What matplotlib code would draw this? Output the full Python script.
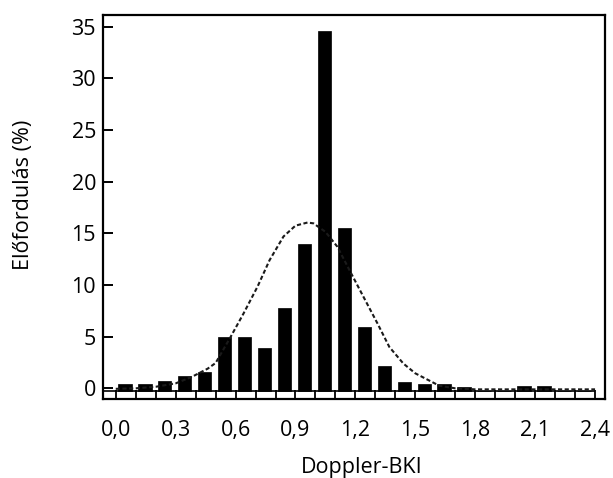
import matplotlib.pyplot as plt
import numpy as np

plt.rcParams['font.family'] = ['Open Sans', 'DejaVu Sans']

# histogram: 24 bins of width 0.1 from 0.0 to 2.4
bin_left = [round(i * 0.1, 1) for i in range(24)]
freq = [0.4, 0.4, 0.7, 1.2, 1.55, 4.95, 4.95, 3.9, 7.8, 13.95, 34.6, 15.5,
        5.9, 2.2, 0.6, 0.45, 0.4, 0.1, 0, 0, 0.25, 0.25, 0, 0]

# fitted curve (dashed)
curve_x = [0.0, 0.1, 0.2, 0.3, 0.38, 0.46, 0.5, 0.57, 0.64, 0.71, 0.77, 0.84,
           0.9, 0.96, 0.99, 1.05, 1.11, 1.17, 1.24, 1.31, 1.37, 1.44, 1.5,
           1.56, 1.62, 1.7, 1.8, 2.4]
curve_y = [-0.05, 0.0, 0.15, 0.48, 1.1, 1.9, 2.45, 4.8, 7.25, 9.85, 12.4, 14.7,
           15.75, 16.05, 15.97, 15.15, 13.7, 11.45, 8.87, 6.3, 4.0, 2.4, 1.45,
           0.85, 0.25, 0.0, -0.1, -0.1]

xticks = [0.0, 0.3, 0.6, 0.9, 1.2, 1.5, 1.8, 2.1, 2.4]
xtick_labels = ['0,0', '0,3', '0,6', '0,9', '1,2', '1,5', '1,8', '2,1', '2,4']
yticks = [0, 5, 10, 15, 20, 25, 30, 35]

fig = plt.figure(figsize=(6.13, 4.78), dpi=100)
ax = fig.add_axes([0.168, 0.1646, 0.819, 0.804])

base = -0.26
heights = [f - base if f > 0 else 0 for f in freq]
ax.bar([b + 0.045 for b in bin_left], heights, bottom=base, width=0.068,
       color='black', edgecolor='black', linewidth=0.5)
ax.hlines(base, -0.064, 2.4, color='black', lw=1.2)
ax.plot(curve_x, curve_y, color='#1a1a1a', lw=1.5, ls=(0, (2.0, 1.2)))

ax.set_xlim(-0.064, 2.45)
ax.set_ylim(-1.065, 36.14)

ax.set_xticks(xticks)
ax.set_xticklabels(xtick_labels)
ax.set_xticks(np.arange(0, 2.41, 0.1), minor=True)
ax.set_yticks(yticks)

fs = 15.5
ax.tick_params(axis='x', which='both', direction='in', length=6.2, width=1.3,
               labelsize=fs, pad=15)
ax.tick_params(axis='y', direction='in', length=7.2, width=1.4,
               labelsize=fs, pad=5)
for s in ax.spines.values():
    s.set_linewidth(1.6)

ax.set_xlabel('Doppler-BKI', fontsize=fs)
ax.set_ylabel('Előfordulás (%)', fontsize=fs)
ax.xaxis.set_label_coords(0.516, -0.178)
ax.yaxis.set_label_coords(-0.158, 0.532)
ax.xaxis.label.set_va('center')
ax.yaxis.label.set_va('center')

fig.savefig('out.png', dpi=100)
